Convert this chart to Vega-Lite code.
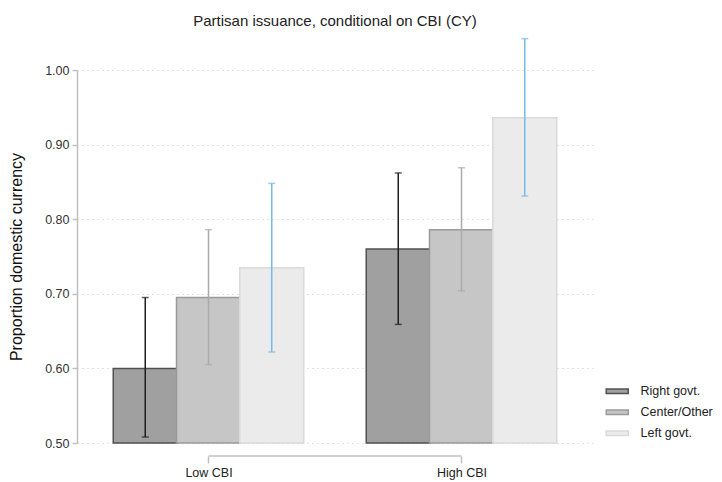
{
  "$schema": "https://vega.github.io/schema/vega-lite/v6.json",
  "autosize": "none",
  "width": 516,
  "height": 373,
  "padding": {"left": 77, "top": 70, "right": 129, "bottom": 39},
  "background": "white",
  "config": {
    "font": "Liberation Sans",
    "view": {"stroke": null}
  },
  "title": {
    "text": "Partisan issuance, conditional on CBI (CY)",
    "fontSize": 15,
    "fontWeight": "normal",
    "color": "#222222",
    "anchor": "middle",
    "offset": 9
  },
  "data": {
    "values": [
      {"group": "Low CBI", "govt": "Right govt.", "slot": 1, "value": 0.600, "lo": 0.508, "hi": 0.695},
      {"group": "Low CBI", "govt": "Center/Other", "slot": 2, "value": 0.695, "lo": 0.605, "hi": 0.786},
      {"group": "Low CBI", "govt": "Left govt.", "slot": 3, "value": 0.735, "lo": 0.622, "hi": 0.848},
      {"group": "High CBI", "govt": "Right govt.", "slot": 5, "value": 0.760, "lo": 0.659, "hi": 0.862},
      {"group": "High CBI", "govt": "Center/Other", "slot": 6, "value": 0.786, "lo": 0.704, "hi": 0.869},
      {"group": "High CBI", "govt": "Left govt.", "slot": 7, "value": 0.936, "lo": 0.831, "hi": 1.042}
    ]
  },
  "layer": [
    {
      "mark": {"type": "bar", "width": 64, "strokeWidth": 1.5},
      "encoding": {
        "x": {
          "field": "slot", "type": "quantitative",
          "scale": {"domain": [0, 8], "nice": false, "zero": false},
          "axis": {
            "values": [2, 6],
            "labelExpr": "datum.value == 2 ? 'Low CBI' : 'High CBI'",
            "title": null,
            "grid": false,
            "domain": false,
            "ticks": true,
            "tickSize": 7,
            "tickWidth": 1.5,
            "tickColor": "#c0c0c0",
            "offset": 13,
            "labelFontSize": 12.5,
            "labelColor": "#222222",
            "labelPadding": 3
          }
        },
        "y": {
          "field": "value", "type": "quantitative",
          "title": "Proportion domestic currency",
          "scale": {"domain": [0.5, 1.0], "nice": false, "zero": false},
          "axis": {
            "values": [0.5, 0.6, 0.7, 0.8, 0.9, 1.0],
            "format": ".2f",
            "title": "Proportion domestic currency",
            "titleFontSize": 16,
            "titleFontWeight": "normal",
            "titleColor": "#111111",
            "titlePadding": 20,
            "labelFontSize": 12.5,
            "labelColor": "#333333",
            "labelPadding": 3,
            "domainColor": "#c0c0c0",
            "domainWidth": 1.5,
            "tickColor": "#c0c0c0",
            "tickWidth": 1.5,
            "tickSize": 5,
            "grid": true,
            "gridColor": "#c4c4c4",
            "gridDash": [1, 4],
            "gridWidth": 1
          }
        },
        "y2": {"datum": 0.5},
        "fill": {
          "field": "govt", "type": "nominal",
          "scale": {"domain": ["Right govt.", "Center/Other", "Left govt."], "range": ["#a0a0a0", "#c6c6c6", "#ebebeb"]},
          "legend": {
            "title": null,
            "orient": "none",
            "legendX": 534,
            "legendY": 315,
            "padding": 0,
            "symbolType": "M-2.2,-0.45H2.2V0.45H-2.2Z",
            "symbolSize": 100,
            "symbolStrokeWidth": 1.5,
            "labelFontSize": 12.5,
            "labelColor": "#222222",
            "labelOffset": 17,
            "rowPadding": 8
          }
        },
        "stroke": {
          "field": "govt", "type": "nominal",
          "scale": {"domain": ["Right govt.", "Center/Other", "Left govt."], "range": ["#505050", "#9a9a9a", "#dadada"]},
          "legend": {
            "title": null,
            "orient": "none",
            "legendX": 534,
            "legendY": 315,
            "padding": 0,
            "symbolType": "M-2.2,-0.45H2.2V0.45H-2.2Z",
            "symbolSize": 100,
            "symbolStrokeWidth": 1.5,
            "labelFontSize": 12.5,
            "labelColor": "#222222",
            "labelOffset": 17,
            "rowPadding": 8
          }
        }
      }
    },
    {
      "mark": {"type": "errorbar", "ticks": {"size": 7, "thickness": 1.5}, "rule": {"strokeWidth": 1.5}},
      "encoding": {
        "x": {"field": "slot", "type": "quantitative"},
        "y": {"field": "lo", "type": "quantitative", "title": "Proportion domestic currency"},
        "y2": {"field": "hi"},
        "color": {
          "field": "govt", "type": "nominal",
          "scale": {"domain": ["Right govt.", "Center/Other", "Left govt."], "range": ["#1e1e1e", "#aaaaaa", "#74bbe8"]},
          "legend": null
        }
      }
    },
    {
      "mark": {"type": "rule", "color": "#c0c0c0", "strokeWidth": 1.5},
      "encoding": {
        "x": {"aggregate": "min", "field": "slot", "type": "quantitative"},
        "x2": {"aggregate": "max", "field": "slot"},
        "y": {"datum": 0.4826}
      },
      "transform": [{"filter": "datum.slot == 2 || datum.slot == 6"}]
    }
  ]
}
